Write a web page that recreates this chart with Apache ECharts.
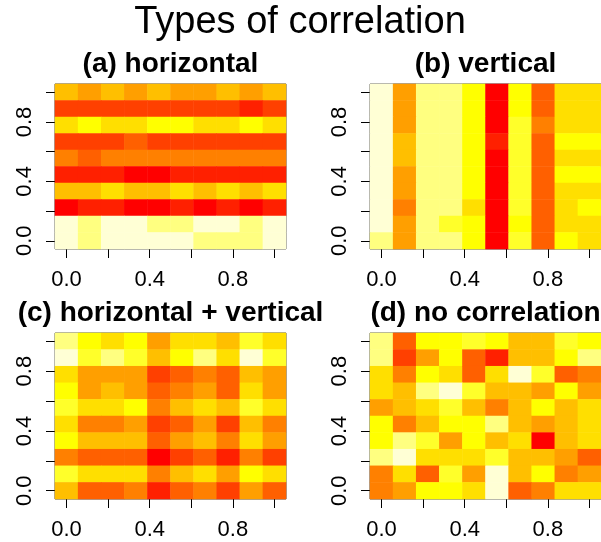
<!DOCTYPE html>
<html>
<head>
<meta charset="utf-8">
<script src="https://cdn.jsdelivr.net/npm/echarts@6/dist/echarts.min.js"></script>
<style>
  html, body { margin: 0; padding: 0; background: #fff; }
  #chart { width: 601px; height: 542px; }
</style>
</head>
<body>
<div id="chart"></div>
<script>
  // heat.colors(12) palette, index 0 = red ... 11 = pale yellow
  var levelColors = ['#FF0000', '#FF2000', '#FF4000', '#FF6000', '#FF8000', '#FF9F00',
                     '#FFBF00', '#FFDF00', '#FFFF00', '#FFFF2A', '#FFFF80', '#FFFFD5'];

  // cell levels, rows listed top (y = 1.0) to bottom (y = 0.0)
  var panelA = [
    [6, 5, 6, 5, 6, 5, 5, 6, 5, 6],
    [2, 2, 2, 2, 2, 2, 2, 2, 1, 2],
    [7, 8, 7, 7, 8, 8, 7, 7, 8, 7],
    [2, 2, 2, 3, 2, 2, 2, 2, 2, 2],
    [4, 3, 4, 4, 4, 4, 4, 4, 4, 4],
    [1, 1, 1, 0, 0, 1, 1, 1, 1, 1],
    [6, 6, 7, 6, 6, 7, 6, 7, 6, 7],
    [0, 1, 1, 0, 0, 1, 0, 1, 0, 1],
    [11, 10, 11, 11, 10, 10, 11, 11, 10, 11],
    [11, 10, 11, 11, 11, 11, 10, 10, 10, 11]
  ];
  var panelB = [
    [11, 5, 10, 10, 8, 0, 8, 3, 7, 7],
    [11, 5, 10, 10, 8, 0, 8, 3, 7, 7],
    [11, 5, 10, 10, 8, 0, 9, 4, 7, 7],
    [11, 6, 10, 10, 8, 1, 9, 3, 8, 8],
    [11, 6, 10, 10, 8, 0, 9, 3, 7, 7],
    [11, 5, 10, 10, 8, 0, 9, 3, 8, 8],
    [11, 5, 10, 10, 8, 0, 9, 3, 7, 7],
    [11, 4, 10, 10, 7, 0, 9, 3, 7, 8],
    [11, 5, 10, 9, 8, 0, 8, 3, 7, 7],
    [10, 5, 10, 10, 8, 0, 9, 3, 8, 7]
  ];
  var panelC = [
    [10, 8, 7, 8, 5, 7, 7, 6, 9, 7],
    [11, 9, 10, 9, 6, 8, 10, 7, 11, 9],
    [7, 5, 5, 5, 2, 3, 4, 3, 6, 5],
    [8, 5, 6, 5, 3, 4, 5, 3, 7, 5],
    [9, 7, 7, 8, 4, 6, 7, 6, 9, 7],
    [7, 4, 4, 5, 2, 3, 5, 2, 6, 4],
    [8, 6, 6, 6, 3, 5, 6, 4, 7, 5],
    [4, 3, 3, 3, 0, 2, 3, 1, 4, 2],
    [9, 7, 7, 7, 4, 6, 7, 5, 8, 7],
    [6, 3, 3, 4, 1, 3, 4, 2, 5, 3]
  ];
  var panelD = [
    [10, 3, 8, 8, 9, 8, 6, 6, 9, 8],
    [10, 2, 5, 8, 3, 1, 6, 6, 8, 10],
    [7, 4, 8, 7, 3, 7, 11, 9, 3, 4],
    [7, 6, 10, 11, 9, 6, 6, 5, 8, 5],
    [5, 6, 7, 9, 6, 4, 6, 8, 6, 7],
    [8, 4, 6, 8, 8, 10, 6, 5, 6, 7],
    [8, 10, 9, 5, 8, 6, 7, 0, 6, 7],
    [10, 11, 7, 7, 7, 9, 6, 6, 5, 3],
    [4, 7, 3, 9, 5, 11, 6, 8, 4, 5],
    [4, 5, 8, 8, 7, 11, 3, 4, 7, 7]
  ];

  var panelTitles = ['(a) horizontal', '(b) vertical', '(c) horizontal + vertical', '(d) no correlation'];
  var cellIndex = ['0', '1', '2', '3', '4', '5', '6', '7', '8', '9'];
  var tickValues = [0, 0.2, 0.4, 0.6, 0.8, 1.0];
  var labelValues = [0, 0.4, 0.8];

  var panels = [panelA, panelB, panelC, panelD];
  var grids = [
    { left: 55, top: 84, width: 231, height: 165 },
    { left: 370, top: 84, width: 231, height: 165 },
    { left: 55, top: 333, width: 231, height: 166 },
    { left: 370, top: 333, width: 231, height: 166 }
  ];

  function toCells(rows) {
    var out = [];
    rows.forEach(function (row, r) {
      row.forEach(function (v, c) {
        out.push([c, 9 - r, v]);
      });
    });
    return out;
  }

  var font = 'Liberation Sans, Arial, sans-serif';
  var xAxes = [], yAxes = [], series = [], graphics = [];

  grids.forEach(function (g, k) {
    g.show = true;
    g.borderColor = '#444';
    g.borderWidth = 1;
    g.backgroundColor = 'transparent';
    // category axes carry the cells
    xAxes.push({ type: 'category', gridIndex: k, data: cellIndex, show: false });
    yAxes.push({ type: 'category', gridIndex: k, data: cellIndex, show: false });
    // value axes only draw ticks and labels
    xAxes.push({
      type: 'value', gridIndex: k, position: 'bottom',
      min: -1 / 18, max: 19 / 18,
      axisLine: { show: false },
      splitLine: { show: false },
      axisTick: { show: true, length: 9, customValues: tickValues, lineStyle: { color: '#000' } },
      axisLabel: {
        customValues: labelValues, margin: 20, fontSize: 22, fontFamily: font, color: '#000',
        formatter: function (v) { return v.toFixed(1); }
      }
    });
    yAxes.push({
      type: 'value', gridIndex: k, position: 'left',
      min: -1 / 18, max: 19 / 18,
      axisLine: { show: false },
      splitLine: { show: false },
      axisTick: { show: true, length: 9, customValues: tickValues, lineStyle: { color: '#000' } },
      axisLabel: {
        customValues: labelValues, margin: 19, rotate: 90, fontSize: 22, fontFamily: font, color: '#000',
        formatter: function (v) { return v.toFixed(1); }
      }
    });
    series.push({
      type: 'heatmap',
      xAxisIndex: 2 * k,
      yAxisIndex: 2 * k,
      data: toCells(panels[k]),
      itemStyle: { borderWidth: 0 },
      emphasis: { disabled: true },
      z: 1
    });
    graphics.push({
      type: 'text',
      x: g.left + g.width / 2,
      y: g.top - 20,
      style: {
        text: panelTitles[k], fontSize: 28, fontWeight: 'bold', fontFamily: font,
        fill: '#000', textAlign: 'center', textVerticalAlign: 'middle'
      }
    });
  });

  graphics.push({
    type: 'text', x: 300, y: 23,
    style: {
      text: 'Types of correlation', fontSize: 38, fontFamily: font,
      fill: '#000', textAlign: 'center', textVerticalAlign: 'middle'
    }
  });

  var chart = echarts.init(document.getElementById('chart'), null, { renderer: 'canvas' });
  chart.setOption({
    animation: false,
    backgroundColor: '#fff',
    grid: grids,
    xAxis: xAxes,
    yAxis: yAxes,
    visualMap: {
      type: 'piecewise',
      show: false,
      seriesIndex: [0, 1, 2, 3],
      pieces: levelColors.map(function (c, i) { return { value: i, color: c }; })
    },
    series: series,
    graphic: graphics
  });
</script>
</body>
</html>
